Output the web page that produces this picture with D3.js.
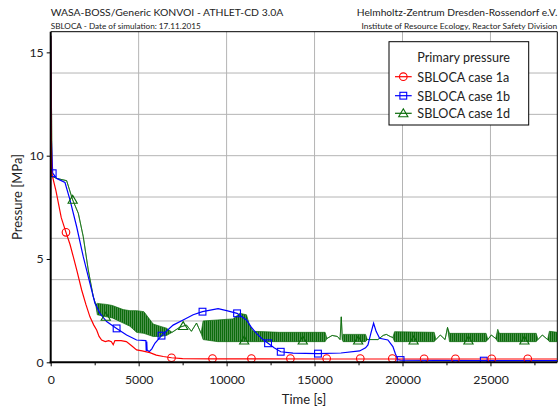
<!DOCTYPE html>
<html><head><meta charset="utf-8">
<script src="https://cdn.jsdelivr.net/npm/d3@7"></script>
<style>
body{margin:0;background:#fff;}
svg{display:block;font-family:Lato, "Open Sans", sans-serif;}
</style></head>
<body><svg id="c" width="560" height="413"></svg>
<script>
// ---- data ----
const headerLeft = ["WASA-BOSS/Generic KONVOI - ATHLET-CD 3.0A", "SBLOCA - Date of simulation: 17.11.2015"];
const headerRight = ["Helmholtz-Zentrum Dresden-Rossendorf e.V.", "Institute of Resource Ecology, Reactor Safety Division"];
const xTicks = [0, 5000, 10000, 15000, 20000, 25000];
const xMinor = [2500, 7500, 12500, 17500, 22500, 27500];
const yTicks = [0, 5, 10, 15];
const yGrid = [2, 4, 6, 8, 10, 12, 14];
const legendTitle = "Primary pressure";
const seriesNames = ["SBLOCA case 1a", "SBLOCA case 1b", "SBLOCA case 1d"];

// case 1a  [time s, pressure MPa]
const case1a = [[0,15.8],[20,12],[57,9.15],[300,8.3],[600,7.0],[869,6.29],[1100,5.7],[1283,5.11],[1500,4.4],[1760,3.5],[2000,2.8],[2231,2.2],[2450,1.8],[2612,1.56],[2750,1.25],[2896,1.08],[3100,1.0],[3300,1.05],[3450,1.0],[3555,0.85],[3650,1.05],[4000,1.05],[4300,1.0],[4600,0.8],[4883,0.6],[5200,0.55],[5638,0.47],[6000,0.35],[6400,0.28],[6870,0.22],[7500,0.18],[9198,0.17],[12000,0.17],[16000,0.16],[20000,0.16],[24000,0.16],[28800,0.16]];
const case1aMarks = [[869,6.29],[6870,0.22],[9198,0.18],[11410,0.18],[13627,0.18],[15688,0.18],[17600,0.18],[19420,0.18],[21230,0.17],[23010,0.17],[25070,0.17],[27120,0.17]];

// case 1b
const case1b = [[0,15.8],[30,11],[113,9.15],[340,8.9],[812,8.7],[1096,7.86],[1476,6.56],[1851,5.11],[2231,3.82],[2515,2.86],[2800,2.37],[3180,1.97],[3747,1.64],[4315,1.32],[4883,1.08],[5411,1.05],[5430,0.55],[5460,1.0],[5480,0.6],[5600,0.51],[5750,0.65],[5922,0.92],[6300,1.29],[6960,1.8],[7530,2.05],[8100,2.3],[8630,2.45],[9517,2.6],[10000,2.5],[10595,2.37],[11130,2.05],[11400,1.7],[11697,1.4],[12000,1.15],[12357,0.92],[12700,0.7],[13077,0.51],[13776,0.44],[15194,0.42],[16500,0.45],[17562,0.55],[17900,0.7],[18035,0.84],[18200,1.4],[18357,1.89],[18500,1.5],[18697,1.16],[19169,1.08],[19453,0.76],[19600,0.4],[19737,0.13],[19890,0.11],[22000,0.09],[24620,0.08],[28800,0.08]];
const case1bMarks = [[113,9.15],[3747,1.64],[6300,1.29],[8630,2.45],[10595,2.37],[12357,0.92],[13077,0.51],[15194,0.42],[19890,0.11],[24620,0.08]];

// case 1d  [time, lower envelope, upper envelope] (oscillating band)
const case1d = [[0,15.8,15.8],[50,12,12],[70,9.0,9.0],[340,8.9,8.9],[907,8.79,8.79],[1249,7.86,7.86],[1570,7.21,7.21],[1851,6.08,6.08],[2135,4.47,4.47],[2420,3.18,3.18],[2560,2.8,2.8],
 [2650,2.3,2.85],[3180,2.2,2.8],[3500,2.15,2.75],[4122,1.9,2.55],[4500,1.75,2.5],[4883,1.45,2.5],[5300,1.4,2.45],[5826,1.25,1.85],[6200,1.25,1.75],[6586,1.3,1.65],
 [6900,1.45,1.45],[7341,1.7,1.7],[7722,1.8,1.8],[8000,1.5,1.5],[8290,1.9,1.9],[8550,1.4,1.4],
 [8665,1.1,2.0],[9500,1.0,2.05],[10370,1.0,2.1],[10750,1.0,2.37],[11130,1.0,2.3],[11300,1.0,1.8],[11500,1.0,1.5],[13000,1.0,1.45],[14500,1.0,1.45],[15600,1.0,1.45],
 [15700,1.15,1.15],[16000,1.3,1.3],[16300,1.25,1.25],[16450,1.1,1.1],[16520,2.2,2.2],[16580,1.1,1.1],
 [16620,1.0,1.35],[17900,1.0,1.35],
 [18000,1.1,1.1],[18600,1.1,1.1],[18900,1.3,1.3],[19080,1.35,1.35],[19300,1.25,1.25],[19450,1.2,1.2],
 [19550,1.0,1.48],[21800,1.0,1.45],
 [21900,1.1,1.1],[22150,1.32,1.32],[22420,1.1,1.1],[22560,1.69,1.69],
 [22670,1.0,1.4],[24750,1.0,1.4],
 [24850,1.1,1.1],[25050,1.32,1.32],[25300,1.15,1.15],
 [25415,1.0,1.6],[25500,1.0,1.4],[27600,1.0,1.4],
 [27700,1.1,1.1],[27950,1.32,1.32],[28250,1.1,1.1],
 [28350,1.0,1.5],[28800,1.0,1.45]];
const case1dMarks = [[1249,7.86],[3130,2.2],[7530,1.75],[11000,1.05],[14330,1.05],[17480,1.05],[20630,1.05],[23750,1.05],[26930,1.05]];

// ---- drawing ----
const svg = d3.select("#c");
const L = 50.7, R = 557.3, T = 31.7, B = 362.3;
const x = d3.scaleLinear().domain([0, 28800]).range([L, R]);
const y = d3.scaleLinear().domain([0, 16]).range([B, T]);
const RED = "#ff0000", BLUE = "#0000ff", GREEN = "#0b6b0b";

// hatch pattern to render the dense oscillation of case 1d
const defs = svg.append("defs");
const pat = defs.append("pattern").attr("id", "osc").attr("patternUnits", "userSpaceOnUse").attr("width", 2).attr("height", 4);
pat.append("rect").attr("width", 2).attr("height", 4).attr("fill", "#5f9a5f");
pat.append("rect").attr("width", 1.2).attr("height", 4).attr("fill", GREEN);

// header
const hd = svg.append("g").attr("fill", "#222");
hd.append("text").attr("x", L).attr("y", 16).attr("font-size", 10.4).text(headerLeft[0]);
hd.append("text").attr("x", L).attr("y", 28.5).attr("font-size", 8.2).text(headerLeft[1]);
hd.append("text").attr("x", R).attr("y", 16).attr("font-size", 10.2).attr("text-anchor", "end").text(headerRight[0]);
hd.append("text").attr("x", R).attr("y", 28.5).attr("font-size", 8.4).attr("text-anchor", "end").text(headerRight[1]);

// grid
const grid = svg.append("g").attr("stroke", "#b4b4b4").attr("stroke-width", 1);
grid.selectAll("line.v").data(xTicks.filter(d => d > 0)).join("line")
  .attr("x1", d => x(d)).attr("x2", d => x(d)).attr("y1", T).attr("y2", B);
grid.selectAll("line.h").data(yGrid).join("line")
  .attr("y1", d => y(d)).attr("y2", d => y(d)).attr("x1", L).attr("x2", R);

// frame top/right
svg.append("path").attr("d", `M${L},${T}H${R}V${B}`).attr("fill", "none").attr("stroke", "#000").attr("stroke-width", 1);

// clip
svg.append("clipPath").attr("id", "clip").append("rect").attr("x", L).attr("y", T).attr("width", R - L).attr("height", B - T);
const plot = svg.append("g").attr("clip-path", "url(#clip)");

// green band
plot.append("path").datum(case1d)
  .attr("d", d3.area().x(d => x(d[0])).y0(d => y(d[1])).y1(d => y(d[2])))
  .attr("fill", "url(#osc)")
  .attr("stroke", GREEN).attr("stroke-width", 0.9).attr("stroke-opacity", 0.8).attr("stroke-linejoin", "round");

const line = d3.line().x(d => x(d[0])).y(d => y(d[1]));
plot.append("path").datum(case1b).attr("d", line).attr("fill", "none").attr("stroke", BLUE).attr("stroke-width", 1.2);
plot.append("path").datum(case1a).attr("d", line).attr("fill", "none").attr("stroke", RED).attr("stroke-width", 1.2);

// markers
function circle(g, cx, cy, c) { g.append("circle").attr("cx", cx).attr("cy", cy).attr("r", 3.8).attr("fill", "none").attr("stroke", c).attr("stroke-width", 1.1); }
function square(g, cx, cy, c) { g.append("rect").attr("x", cx - 3.4).attr("y", cy - 3.4).attr("width", 6.8).attr("height", 6.8).attr("fill", "none").attr("stroke", c).attr("stroke-width", 1.1); }
function tri(g, cx, cy, c) { g.append("path").attr("d", `M${cx},${cy - 4.5}L${cx + 4.6},${cy + 3.4}L${cx - 4.6},${cy + 3.4}Z`).attr("fill", "none").attr("stroke", c).attr("stroke-width", 1.1); }
case1dMarks.forEach(d => tri(plot, x(d[0]), y(d[1]), GREEN));
case1bMarks.forEach(d => square(plot, x(d[0]), y(d[1]), BLUE));
case1aMarks.forEach(d => circle(plot, x(d[0]), y(d[1]), RED));

// axes
const ax = svg.append("g").attr("transform", `translate(0,${B})`)
  .call(d3.axisBottom(x).tickValues(xTicks).tickSize(4).tickPadding(9).tickFormat(d3.format("d")));
const axm = svg.append("g").attr("transform", `translate(0,${B})`)
  .call(d3.axisBottom(x).tickValues(xMinor).tickSize(3).tickFormat(""));
const ay = svg.append("g").attr("transform", `translate(${L},0)`)
  .call(d3.axisLeft(y).tickValues(yTicks).tickSize(4).tickPadding(3));
[ax, axm, ay].forEach(g => {
  g.select(".domain").remove();
  g.selectAll("text").attr("font-family", "Lato").attr("font-size", 12.3).attr("fill", "#222");
  g.selectAll("line").attr("stroke", "#000");
});
svg.append("line").attr("x1", L).attr("x2", L).attr("y1", T).attr("y2", B + 1).attr("stroke", "#000").attr("stroke-width", 2);
svg.append("line").attr("x1", L - 1).attr("x2", R).attr("y1", B).attr("y2", B).attr("stroke", "#000").attr("stroke-width", 2);

// axis titles
svg.append("text").attr("x", (L + R) / 2).attr("y", 404).attr("text-anchor", "middle").attr("font-size", 13).attr("fill", "#222").text("Time [s]");
svg.append("text").attr("transform", `translate(22,${(T + B) / 2}) rotate(-90)`).attr("text-anchor", "middle").attr("font-size", 13).attr("fill", "#222").text("Pressure [MPa]");

// legend
const lg = svg.append("g");
lg.append("rect").attr("x", 389).attr("y", 41.7).attr("width", 139.7).attr("height", 83.3).attr("fill", "#fff").attr("stroke", "#000").attr("stroke-width", 1);
lg.append("text").attr("x", 417.3).attr("y", 62.3).attr("font-size", 12.6).attr("fill", "#222").text(legendTitle);
const lcol = [RED, BLUE, GREEN], lys = [81.7, 100.7, 118.3], lfn = [circle, square, tri];
seriesNames.forEach((n, i) => {
  const cy = lys[i] - 5;
  lg.append("line").attr("x1", 395).attr("x2", 411.7).attr("y1", cy).attr("y2", cy).attr("stroke", lcol[i]).attr("stroke-width", 1.2);
  lfn[i](lg, 403.3, cy, lcol[i]);
  lg.append("text").attr("x", 417.3).attr("y", lys[i]).attr("font-size", 12.6).attr("fill", "#222").text(n);
});
</script></body></html>
